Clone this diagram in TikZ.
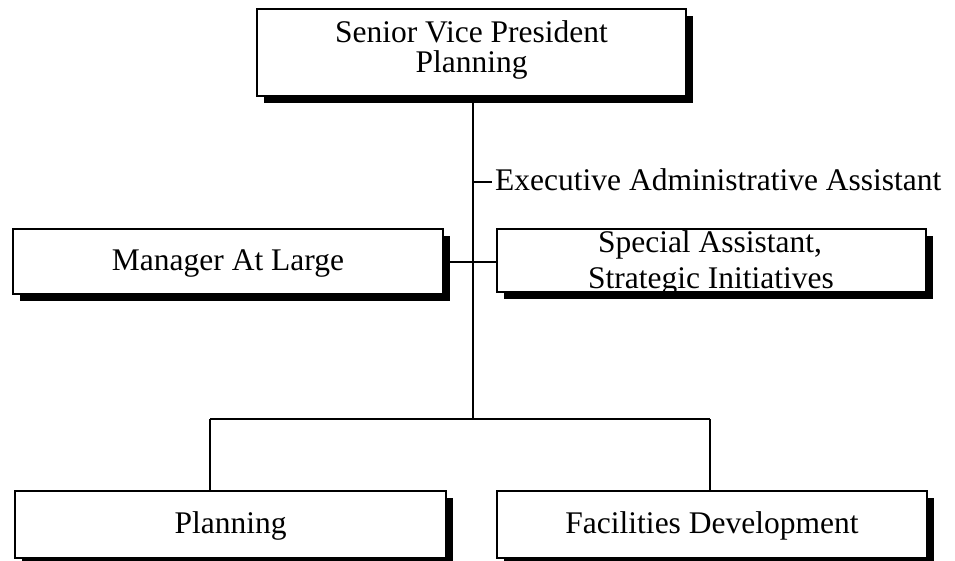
\documentclass[tikz,border=0pt]{standalone}
\usepackage{fontspec}
\setmainfont{Liberation Serif}
\usetikzlibrary{shadows}
\begin{document}
\begin{tikzpicture}[x=1pt,y=-1pt,
  orgbox/.style={draw=black, line width=1.6pt, fill=white, rectangle, inner sep=0pt,
    drop shadow={shadow xshift=7pt, shadow yshift=-7pt, fill=black, opacity=1}},
  conn/.style={line width=1.6pt, draw=black},
  lbl/.style={font=\fontsize{31.5}{34}\selectfont, inner sep=0pt, anchor=base}]
\useasboundingbox (0,0) rectangle (955,560);
\node[orgbox, minimum width=429pt, minimum height=87pt] (svp) at (471.5,52.5) {};
\node[orgbox, minimum width=430pt, minimum height=65pt] (mgr) at (228,261.5) {};
\node[orgbox, minimum width=429pt, minimum height=63pt] (spec) at (711.5,260.5) {};
\node[orgbox, minimum width=431pt, minimum height=67pt] (plan) at (230.5,524.5) {};
\node[orgbox, minimum width=430pt, minimum height=67pt] (fac) at (712,524.5) {};
\node[lbl] (svp1) at (471.5,42) {Senior Vice President};
\node[lbl] (svp2) at (471.5,72) {Planning};
\node[lbl] (mgr1) at (228,270) {Manager At Large};
\node[lbl] (spec1) at (710,252) {Special Assistant,};
\node[lbl] (spec2) at (711,288) {Strategic Initiatives};
\node[lbl] (plan1) at (230.5,533) {Planning};
\node[lbl] (fac1) at (712,533) {Facilities Development};
\coordinate (top) at (473,96);
\coordinate (jb) at (473,419);
\coordinate (ea) at (473,182);
\coordinate (jm) at (473,262);
\coordinate (pl) at (210,419);
\coordinate (fl) at (710,419);
\draw[conn] (top) -- (jb);
\draw[conn] (mgr.east |- jm) -- (spec.west |- jm);
\draw[conn] (pl) -- (fl);
\draw[conn] (pl) -- (pl |- plan.north);
\draw[conn] (fl) -- (fl |- fac.north);
\draw[conn] (ea) -- ++(19,0) coordinate (eaend);
\node[lbl, anchor=base west] (eaa) at (495,190) {Executive Administrative Assistant};
\end{tikzpicture}
\end{document}
